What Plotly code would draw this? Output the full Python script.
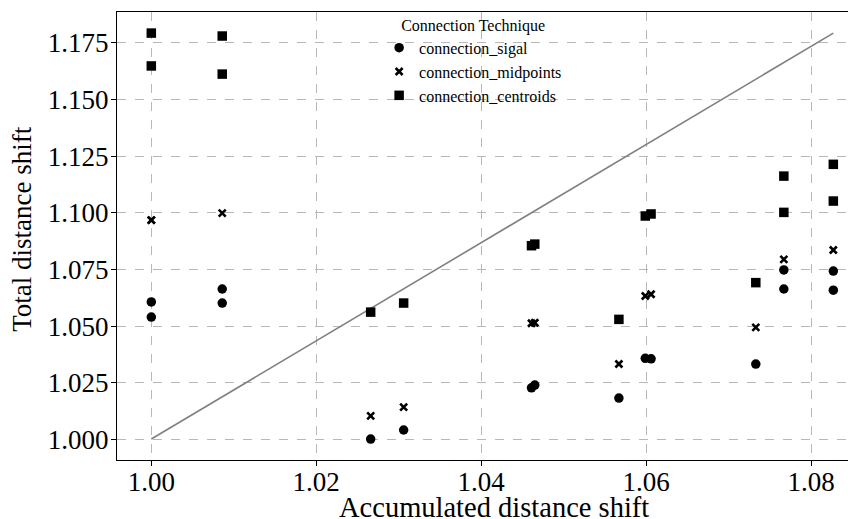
import plotly.graph_objects as go

# connection_sigal
sigal_x = [1.0, 1.0, 1.0086, 1.0086, 1.0266, 1.0306, 1.0461, 1.0465, 1.0567,
           1.0599, 1.0606, 1.0733, 1.0767, 1.0767, 1.0827, 1.0827]
sigal_y = [1.0607, 1.0540, 1.0664, 1.0602, 1.0002, 1.0042, 1.0228, 1.0240, 1.0183,
           1.0358, 1.0356, 1.0333, 1.0748, 1.0664, 1.0743, 1.0659]

# connection_midpoints
mid_x = [1.0, 1.0, 1.0086, 1.0266, 1.0306, 1.0461, 1.0465, 1.0567,
         1.0599, 1.0606, 1.0733, 1.0767, 1.0827]
mid_y = [1.0968, 1.0968, 1.0999, 1.0104, 1.0143, 1.0513, 1.0515, 1.0333,
         1.0633, 1.0641, 1.0495, 1.0795, 1.0836]

# connection_centroids
cen_x = [1.0, 1.0, 1.0086, 1.0086, 1.0266, 1.0306, 1.0461, 1.0465, 1.0567,
         1.0599, 1.0606, 1.0733, 1.0767, 1.0767, 1.0827, 1.0827]
cen_y = [1.1793, 1.1648, 1.1780, 1.1612, 1.0562, 1.0602, 1.0855, 1.0862, 1.0530,
         1.0986, 1.0995, 1.0692, 1.1162, 1.1002, 1.1214, 1.1052]

x_ticks = [1.00, 1.02, 1.04, 1.06, 1.08]
x_tick_labels = ["1.00", "1.02", "1.04", "1.06", "1.08"]
y_ticks = [1.000, 1.025, 1.050, 1.075, 1.100, 1.125, 1.150, 1.175]
y_tick_labels = ["1.000", "1.025", "1.050", "1.075", "1.100", "1.125", "1.150", "1.175"]

all_x = sigal_x + mid_x + cen_x
all_y = sigal_y + mid_y + cen_y

FONT = "Liberation Serif"

fig = go.Figure()
fig.add_trace(go.Scatter(
    x=[min(all_x), max(all_x)], y=[min(all_y), max(all_y)],
    mode="lines", line=dict(color="#808080", width=1.6),
    showlegend=False, hoverinfo="skip"))
fig.add_trace(go.Scatter(
    x=sigal_x, y=sigal_y, mode="markers", name="connection_sigal",
    marker=dict(symbol="circle", size=9.5, color="black")))
fig.add_trace(go.Scatter(
    x=mid_x, y=mid_y, mode="markers", name="connection_midpoints",
    marker=dict(symbol="x-thin", size=7, color="black",
                line=dict(width=2.6, color="black"))))
fig.add_trace(go.Scatter(
    x=cen_x, y=cen_y, mode="markers", name="connection_centroids",
    marker=dict(symbol="square", size=9.5, color="black")))

# page body has an 8px margin, so the figure is sized to fit the window
fig.update_layout(
    width=848, height=511,
    margin=dict(l=109, r=0, t=4, b=59),
    paper_bgcolor="white", plot_bgcolor="white",
    font=dict(family=FONT, color="black"),
    legend=dict(
        x=0.3547, y=1.0044, xanchor="left", yanchor="top",
        bgcolor="rgba(0,0,0,0)", borderwidth=0,
        font=dict(family=FONT, size=16, color="black"),
        title=dict(text="Connection Technique", side="top center",
                   font=dict(family=FONT, size=16, color="black")),
        tracegroupgap=0,
    ),
    annotations=[
        dict(text="Accumulated distance shift", xref="paper", yref="paper",
             x=0.5095, y=-0.107, xanchor="center", yanchor="middle",
             showarrow=False, font=dict(family=FONT, size=28.5, color="black")),
        dict(text="Total distance shift", xref="paper", yref="paper",
             x=-0.128, y=0.517, xanchor="center", yanchor="middle", textangle=-90,
             showarrow=False, font=dict(family=FONT, size=27, color="black")),
    ],
)
fig.update_xaxes(
    range=[0.99584, 1.08545], automargin=False,
    tickvals=x_ticks, ticktext=x_tick_labels,
    tickfont=dict(family=FONT, size=27, color="black"),
    ticklabelstandoff=-8,
    showline=True, linecolor="black", linewidth=1.3, mirror=True,
    ticks="outside", ticklen=5, tickcolor="black",
    showgrid=True, gridcolor="#b8b8b8", griddash="dash", gridwidth=1,
    zeroline=False,
)
fig.update_yaxes(
    range=[0.99096, 1.1886], automargin=False,
    tickvals=y_ticks, ticktext=y_tick_labels,
    tickfont=dict(family=FONT, size=27, color="black"),
    ticklabelstandoff=-3,
    showline=True, linecolor="black", linewidth=1.3, mirror=False,
    ticks="outside", ticklen=5, tickcolor="black",
    showgrid=True, gridcolor="#b8b8b8", griddash="dash", gridwidth=1,
    zeroline=False,
)

fig.write_html("out.html")
